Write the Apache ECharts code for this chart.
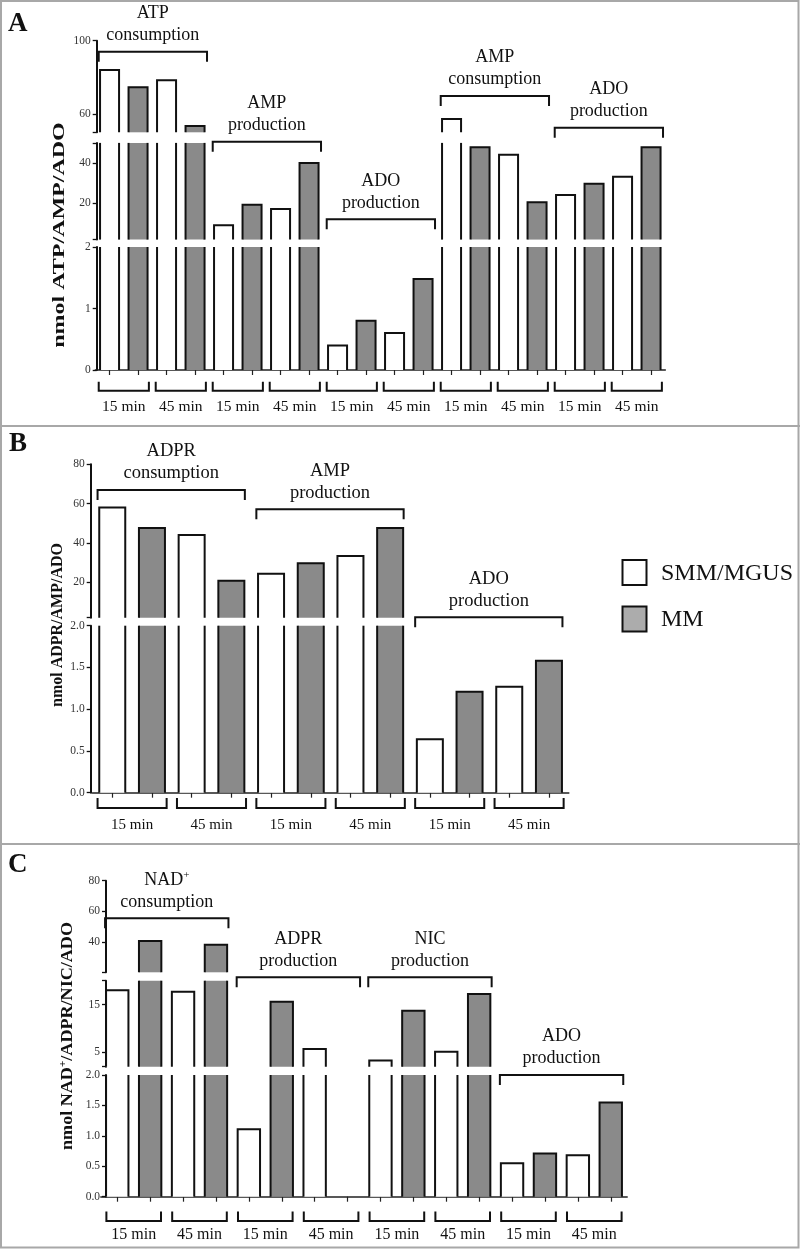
<!DOCTYPE html>
<html><head><meta charset="utf-8">
<script src="https://cdn.jsdelivr.net/npm/echarts@6/dist/echarts.min.js"></script>
<style>html,body{margin:0;padding:0;background:#fff}#c{width:800px;height:1249px}</style>
</head><body><div id="c"></div>
<script>
// ---------------- DATA ----------------
const A_groups = [['ATP','consumption'],['AMP','production'],['ADO','production'],['AMP','consumption'],['ADO','production']];
const A_times  = ['15 min','45 min','15 min','45 min','15 min','45 min','15 min','45 min','15 min','45 min'];
const A_smm    = [84.0, 78.4, 9.1, 17.2, 0.40, 0.60, 57.3, 44.1, 24.1, 33.2];
const A_mm     = [74.6, 53.5, 19.3, 40.0, 0.80, 1.48, 47.9, 20.6, 29.7, 47.9];
const A_ticks  = [[0,1,2],[20,40],[60,100]];

const B_groups = [['ADPR','consumption'],['AMP','production'],['ADO','production']];
const B_times  = ['15 min','45 min','15 min','45 min','15 min','45 min'];
const B_smm    = [58.0, 44.0, 24.4, 33.4, 0.64, 1.27];
const B_mm     = [47.6, 20.8, 29.7, 47.6, 1.21, 1.58];
const B_ticks  = [[0,0.5,1,1.5,2],[20,40,60,80]];

const C_groups = [['{a|NAD}{s|+}','consumption'],['ADPR','production'],['NIC','production'],['ADO','production']];
const C_times  = ['15 min','45 min','15 min','45 min','15 min','45 min','15 min','45 min'];
const C_smm    = [18.0, 17.7, 1.11, 5.7, 3.3, 5.15, 0.55, 0.68];
const C_mm     = [40.5, 38.0, 15.6, 0, 13.7, 17.2, 0.71, 1.55];
const C_ticks  = [[0,0.5,1,1.5,2],[5,15],[40,60,80]];

const legendNames = ['SMM/MGUS','MM'];
const yNames = ['nmol ATP/AMP/ADO','nmol ADPR/AMP/ADO','{a|nmol NAD}{s|+}{a|/ADPR/NIC/ADO}'];

// ---------------- LAYOUT / STYLE ----------------
const FONT = '"Liberation Serif","Times New Roman",serif';
const WHITE = '#ffffff', GREY = '#8a8a8a', INK = '#111111';

const panels = [
  { letter:'A', lx:8, ly:24, groups:A_groups, times:A_times, smm:A_smm, mm:A_mm, ticks:A_ticks, dec:0,
    left:95.3, width:570, yOffset:-1.4, ratio:0.667,
    segs:[{min:0,max:2,top:247,bottom:370},{min:2,max:50,top:142.9,bottom:239.6},{min:50,max:100,top:40.7,bottom:132.3}],
    bracketY:[51.7,141.7,219.3,96,127.7], topK:[0.38,0.42], botK:[0.38,0.38],
    bot:{legTop:381.7,line:390.7,label:407,font:15.5}, gfont:18,
    yname:{x:60,y:235,scale:1.5,size:16} },
  { letter:'B', lx:9, ly:444, groups:B_groups, times:B_times, smm:B_smm, mm:B_mm, ticks:B_ticks, dec:1,
    left:92.4, width:476.4, yOffset:1.7, ratio:0.655,
    segs:[{min:0,max:2,top:625.7,bottom:792.7},{min:2,max:80,top:464.3,bottom:617.7}],
    bracketY:[490,509.3,617.3], topK:[0.37,0.34], botK:[0.37,0.37],
    bot:{legTop:798,line:808,label:825,font:15}, gfont:18.5,
    yname:{x:58,y:625,scale:1.0,size:16} },
  { letter:'C', lx:8, ly:865, groups:C_groups, times:C_times, smm:C_smm, mm:C_mm, ticks:C_ticks, dec:1,
    left:100.8, width:526.4, yOffset:-5.2, ratio:0.68,
    segs:[{min:0,max:2,top:1075,bottom:1196.7},{min:2,max:20,top:980.7,bottom:1066.7},{min:20,max:80,top:880.7,bottom:972.3}],
    bracketY:[918.3,977.3,977.3,1075], topK:[0.37,0.38], botK:[0.33,0.33],
    bot:{legTop:1211.5,line:1221,label:1234.7,font:16}, gfont:18,
    yname:{x:68,y:1036,scale:1.13,size:16} }
];

// ---------------- BUILD ----------------
function barRenderer(seg, ratio, fill) {
  return function (params, api) {
    const slot = api.value(0), v = api.value(1);
    if (!(v > seg.min)) return null;
    const cs = params.coordSys;
    const band = api.size([1, 0])[0];
    const w = band * ratio;
    const cx = api.coord([slot, seg.min])[0];
    const base = cs.y + cs.height;
    const clipped = v > seg.max;
    const yTop = clipped ? cs.y : api.coord([slot, v])[1];
    const l = cx - w / 2, r = cx + w / 2;
    const ls = { stroke: INK, lineWidth: 2, fill: 'none' };
    const children = [{ type:'rect', shape:{ x:l, y:yTop, width:w, height:base - yTop }, style:{ fill: fill, stroke: null } }];
    if (clipped) {
      children.push({ type:'polyline', shape:{ points:[[l,base],[l,yTop]] }, style: ls });
      children.push({ type:'polyline', shape:{ points:[[r,yTop],[r,base]] }, style: ls });
    } else {
      children.push({ type:'polyline', shape:{ points:[[l,base],[l,yTop],[r,yTop],[r,base]] }, style: ls });
    }
    return { type:'group', children: children };
  };
}

const grid = [], xAxis = [], yAxis = [], series = [];
panels.forEach(function (P) {
  const nSlots = P.times.length * 2;
  const slots = [];
  for (let i = 0; i < nSlots; i++) slots.push(String(i));
  const dSmm = P.smm.map(function (v, t) { return [2 * t, v]; });
  const dMm  = P.mm.map(function (v, t) { return [2 * t + 1, v]; });
  P.gridIdx = [];
  P.segs.forEach(function (seg, si) {
    const g = grid.length;
    P.gridIdx.push(g);
    const isBottom = si === 0;
    const labels = P.ticks[si];
    const useDec = P.dec && isBottom;
    const tickVals = Array.from(new Set([seg.min].concat(labels).concat([seg.max])));
    grid.push({ left: P.left, width: P.width, top: seg.top, height: seg.bottom - seg.top, containLabel: false });
    xAxis.push({ type:'category', gridIndex:g, data:slots, boundaryGap:true,
      axisLine:{ show:isBottom, lineStyle:{ color:'#222', width:1.5 } },
      axisTick:{ show:isBottom, alignWithLabel:true, length:5, lineStyle:{ color:'#222', width:1.2 } },
      axisLabel:{ show:false }, splitLine:{ show:false } });
    yAxis.push({ type:'value', gridIndex:g, min:seg.min, max:seg.max, offset:P.yOffset,
      axisLine:{ show:true, lineStyle:{ color:INK, width:2 } },
      axisTick:{ show:true, length:4, customValues: tickVals, lineStyle:{ color:INK, width:1.3 } },
      axisLabel:{ show:true, customValues: labels, margin:6, fontSize:11.5, fontFamily:FONT, color:'#333',
        formatter: function (v) { return useDec ? Number(v).toFixed(1) : String(v); } },
      splitLine:{ show:false } });
    series.push({ type:'custom', name:legendNames[0], xAxisIndex:g, yAxisIndex:g, data:dSmm,
      renderItem: barRenderer(seg, P.ratio, WHITE), silent:true, animation:false });
    series.push({ type:'custom', name:legendNames[1], xAxisIndex:g, yAxisIndex:g, data:dMm,
      renderItem: barRenderer(seg, P.ratio, GREY), silent:true, animation:false });
  });
});

const chart = echarts.init(document.getElementById('c'), null, { renderer:'canvas' });
chart.setOption({ animation:false, backgroundColor:'#fff', grid:grid, xAxis:xAxis, yAxis:yAxis, series:series });

// ---------------- ANNOTATIONS ----------------
const richStyles = function (size, bold) {
  return {
    a:{ fontSize:size, fontFamily:FONT, fontWeight: bold ? 'bold' : 'normal', fill:INK },
    s:{ fontSize:Math.round(size * 0.62), fontFamily:FONT, fontWeight: bold ? 'bold' : 'normal', fill:INK, padding:[0,0,Math.round(size*0.55),0] }
  };
};
function txt(text, x, y, size, opts) {
  opts = opts || {};
  return { type:'text', x:x, y:y, rotation: opts.rotation || 0, scaleX: opts.scaleX || 1, silent:true,
    style:{ text:text, fontSize:size, fontFamily:FONT, fontWeight: opts.bold ? 'bold' : 'normal', fill:INK,
      align: opts.align || 'center', verticalAlign:'middle', rich: richStyles(size, opts.bold) } };
}
function line(points, w) {
  return { type:'polyline', silent:true, shape:{ points:points }, style:{ stroke:INK, lineWidth: w || 2, fill:'none' } };
}

const g = [];
g.push({ type:'rect', silent:true, shape:{ x:1, y:1, width:797.5, height:1246.5 }, style:{ fill:'none', stroke:'#a8a8a8', lineWidth:2 } });
g.push({ type:'line', silent:true, shape:{ x1:0, y1:426, x2:800, y2:426 }, style:{ stroke:'#a8a8a8', lineWidth:2 } });
g.push({ type:'line', silent:true, shape:{ x1:0, y1:844, x2:800, y2:844 }, style:{ stroke:'#a8a8a8', lineWidth:2 } });

panels.forEach(function (P, pi) {
  const xi = P.gridIdx[0];
  const X = function (slot) { return chart.convertToPixel({ xAxisIndex: xi }, slot); };
  const band = X(1) - X(0);
  g.push(txt(P.letter, P.lx, P.ly, 27, { bold:true, align:'left' }));
  g.push(txt(yNames[pi], P.yname.x, P.yname.y, P.yname.size, { bold:true, rotation:Math.PI / 2, scaleX:P.yname.scale }));
  P.groups.forEach(function (lab, gi) {
    const xl = X(4 * gi) - P.topK[0] * band, xr = X(4 * gi + 3) + P.topK[1] * band;
    const y = P.bracketY[gi];
    g.push(line([[xl, y + 10], [xl, y], [xr, y], [xr, y + 10]], 2));
    const cx = (xl + xr) / 2;
    g.push(txt(lab[0], cx, y - 38.5, P.gfont));
    g.push(txt(lab[1], cx, y - 16.5, P.gfont));
  });
  P.times.forEach(function (tl, t) {
    const xl = X(2 * t) - P.botK[0] * band, xr = X(2 * t + 1) + P.botK[1] * band;
    g.push(line([[xl, P.bot.legTop], [xl, P.bot.line], [xr, P.bot.line], [xr, P.bot.legTop]], 2));
    g.push(txt(tl, (X(2 * t) + X(2 * t + 1)) / 2, P.bot.label, P.bot.font));
  });
});

// legend (panel B)
g.push({ type:'rect', silent:true, shape:{ x:622.5, y:560, width:24, height:25 }, style:{ fill:WHITE, stroke:INK, lineWidth:2 } });
g.push({ type:'rect', silent:true, shape:{ x:622.5, y:606.5, width:24, height:25 }, style:{ fill:'#acacac', stroke:INK, lineWidth:2 } });
g.push(txt(legendNames[0], 661, 574, 24, { align:'left' }));
g.push(txt(legendNames[1], 661, 620, 24, { align:'left' }));

chart.setOption({ graphic: g });
</script>
</body></html>
